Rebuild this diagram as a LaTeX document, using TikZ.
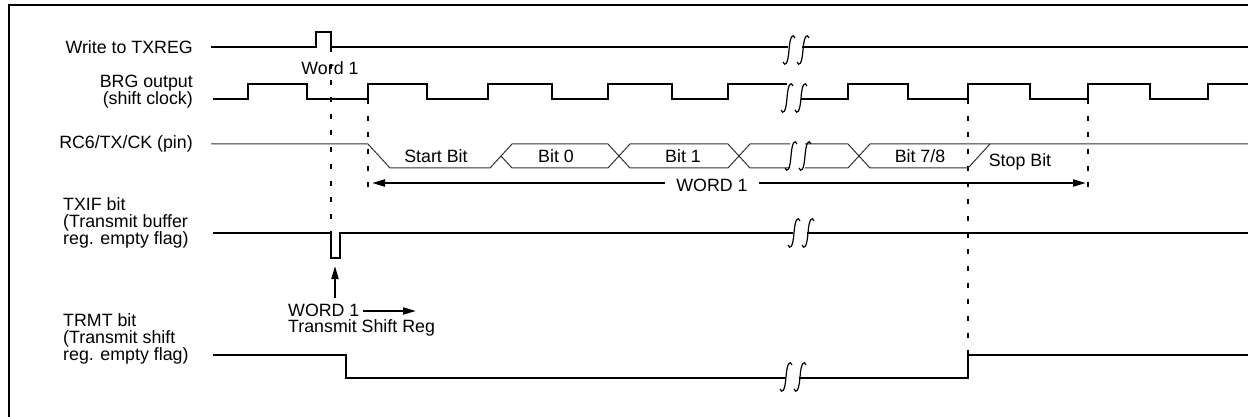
\documentclass[tikz,border=0pt]{standalone}
\usepackage{fontspec}
\setmainfont{Liberation Sans}
\usetikzlibrary{arrows.meta}
\newcommand\lbfont{\fontsize{17.8}{16.5}\selectfont}
\tikzset{
  sig/.style={line width=2.4pt, line join=miter},
  bus/.style={line width=1pt, black!80},
  dsh/.style={line width=2pt, dash pattern=on 5pt off 11.7pt},
  lbl/.style={font=\lbfont, inner sep=0pt},
  arrline/.style={line width=2pt},
  tip/.style={-{Triangle[length=13pt,width=7pt]}},
  brk/.pic={\draw[line width=1.2pt] (6,-12) .. controls (4,-17) and (1,-14) .. (0,0) .. controls (-1,14) and (-4,17) .. (-6,12);}
}
\begin{document}
\begin{tikzpicture}[x=1pt,y=-1pt]
\useasboundingbox (0,0) rectangle (1248,417);
% frame
\draw[line width=2pt] (9,418) -- (9,5) -- (1249,5);

% labels
\node[lbl, anchor=east] (lwr) at (193,47) {Write to TXREG};
\node[lbl, anchor=east, align=right] (lbrg) at (193,91.5) {BRG output\\(shift clock)};
\node[lbl, anchor=east] (lrc) at (193,144) {RC6/TX/CK (pin)};
\node[lbl, anchor=west, align=left] (ltx) at (63,223) {TXIF bit\\(Transmit buffer\\reg. empty flag)};
\node[lbl, anchor=west, align=left] (ltr) at (63,339) {TRMT bit\\(Transmit shift\\reg. empty flag)};

% dashed markers
\draw[dsh] (331,47) -- (331,233);
\draw[dsh] (368,99) -- (368,192);
\draw[dsh] (968,99) -- (968,355);
\draw[dsh] (1088,99) -- (1088,197);

% Write to TXREG
\draw[sig] (211,47) -- (316,47) -- (316,32) -- (331,32) -- (331,47) -- (788,47);
\draw[sig] (802,47) -- (1248,47);
\pic at (789,50) {brk};
\pic at (803,50) {brk};
\node[lbl] (w1) at (330,68) {Word 1};

% BRG output
\draw[sig] (213,99) -- (248,99) |- (307,84) |- (368,99) |- (427,84) |- (488,99) |- (552,84) |- (608,99) |- (672,84) |- (728,99) |- (787,84);
\draw[sig] (801,99) -- (848,99) |- (908,84) |- (968,99) |- (1030,84) |- (1088,99) |- (1150,84) |- (1208,99) |- (1248,84);
\pic at (787,98) {brk};
\pic at (801,98) {brk};

% RC6/TX/CK
\draw[bus] (211,144) -- (368,144) -- (390,168) -- (490,168) -- (512,144) -- (608,144) -- (630,168) -- (728,168) -- (750,144) -- (790,144);
\draw[bus] (501,156) -- (512,168) -- (608,168) -- (630,144) -- (728,144) -- (750,168) -- (790,168);
\draw[bus] (805,144) -- (848,144) -- (870,168) -- (968,168) -- (990,144);
\draw[bus] (805,168) -- (848,168) -- (870,144) -- (1248,144);
\pic at (791,156) {brk};
\pic at (805,156) {brk};
\node[lbl] (sb) at (436,156) {Start Bit};
\node[lbl] (b0) at (556,156) {Bit 0};
\node[lbl] (b1) at (683,156) {Bit 1};
\node[lbl] (b7) at (920,156) {Bit 7/8};
\node[lbl] (stb) at (1020,162) {Stop Bit};

% WORD 1 span
\coordinate (wl) at (372,183);
\coordinate (wr) at (1086,183);
\draw[arrline, tip] (715,183) -- (wl);
\draw[arrline, tip] (715,183) -- (wr);
\node[lbl, fill=white, inner xsep=11pt, inner ysep=2pt] (wd) at (712,185) {WORD 1};

% TXIF
\draw[sig] (213,233) -- (331,233) -- (331,258) -- (340,258) -- (340,233) -- (793,233);
\draw[sig] (807,233) -- (1248,233);
\pic at (794,233) {brk};
\pic at (808,233) {brk};

% annotation
\coordinate (ua) at (335,298);
\coordinate (ub) at (335,266);
\draw[arrline, tip] (ua) -- (ub);
\node[lbl, anchor=west] (ws) at (288,310) {WORD 1};
\coordinate (ra) at (363,311);
\coordinate (rb) at (416,311);
\draw[arrline, tip] (ra) -- (rb);
\node[lbl, anchor=west] (tsr) at (288,328) {Transmit Shift Reg};

% TRMT
\draw[sig] (213,355) -- (346,355) -- (346,378) -- (786,378);
\draw[sig] (799,378) -- (968,378) -- (968,355) -- (1248,355);
\pic at (786,377) {brk};
\pic at (800,377) {brk};
\end{tikzpicture}
\end{document}
